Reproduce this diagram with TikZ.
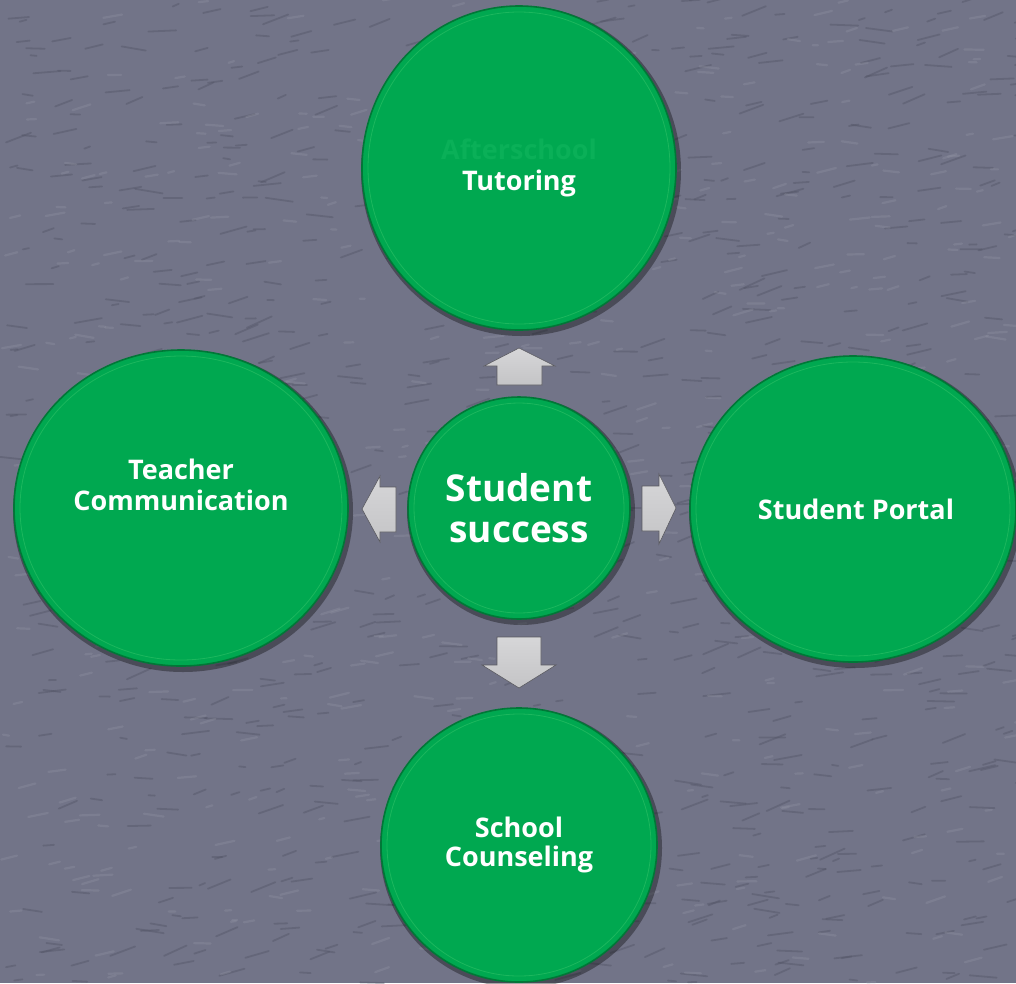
\documentclass[tikz,border=0pt]{standalone}
\usepackage{fontspec}
\setmainfont{Open Sans}
\usetikzlibrary{shapes.geometric}
\definecolor{bggray}{RGB}{114,116,136}
\definecolor{bgdark}{RGB}{80,82,100}
\definecolor{bglight}{RGB}{150,152,166}
\definecolor{cgreen}{RGB}{0,168,80}
\definecolor{cgreenrim}{RGB}{0,120,55}
\definecolor{cgreenhi}{RGB}{40,190,100}
\definecolor{hidgreen}{RGB}{10,176,88}
\definecolor{arrowfill}{RGB}{196,196,198}
\definecolor{arrowlight}{RGB}{214,214,216}
\definecolor{arrowedge}{RGB}{90,90,96}
\tikzset{
  bubble/.style={ellipse, fill=cgreen, draw=cgreenrim, line width=1.6pt, inner sep=0pt,
    text=white, font=\bfseries, align=center},
  bubbleshadow/.style={ellipse, fill=black, opacity=0.35, inner sep=0pt},
  blockarrow/.style={top color=arrowlight, bottom color=arrowfill, draw=arrowedge, line width=0.6pt, line join=miter},
  hirim/.style={ellipse, draw=cgreenhi, line width=0.8pt, inner sep=0pt, opacity=0.7},
  smalltext/.style={font=\bfseries\fontsize{27}{31}\selectfont},
}
\begin{document}
\begin{tikzpicture}[x=1pt,y=-1pt]
\useasboundingbox (0,0) rectangle (1016,983);
\clip (0,0) rectangle (1016,983);
\fill[bggray] (0,0) rectangle (1016,983);
% background texture
\pgfmathsetseed{17}
\foreach \i in {1,...,900}{
  \pgfmathsetmacro{\px}{rnd*1016}
  \pgfmathsetmacro{\py}{rnd*983}
  \pgfmathsetmacro{\pl}{6+rnd*22}
  \pgfmathsetmacro{\pa}{-25+rnd*35}
  \draw[bgdark, opacity=0.4, line width=1.8pt, line cap=round] (\px,\py) -- ++(\pa:\pl);
}
\foreach \i in {1,...,500}{
  \pgfmathsetmacro{\px}{rnd*1016}
  \pgfmathsetmacro{\py}{rnd*983}
  \pgfmathsetmacro{\pl}{5+rnd*15}
  \pgfmathsetmacro{\pa}{-20+rnd*30}
  \draw[bglight, opacity=0.3, line width=2.2pt, line cap=round] (\px,\py) -- ++(\pa:\pl);
}
% shadows
\node[bubbleshadow, minimum width=320pt, minimum height=330pt] at (521,171) {};
\node[bubbleshadow, minimum width=340pt, minimum height=322pt] at (183,511) {};
\node[bubbleshadow, minimum width=332pt, minimum height=312pt] at (855,512) {};
\node[bubbleshadow, minimum width=282pt, minimum height=280pt] at (521,848) {};
\node[bubbleshadow, minimum width=228pt, minimum height=228pt] at (521,511) {};
% bubbles
\node[bubble, smalltext, minimum width=314pt, minimum height=324pt] (top) at (519,168)
  {\textcolor{hidgreen}{Afterschool}\\Tutoring};
\node[bubble, smalltext, minimum width=334pt, minimum height=316pt] (left) at (181,508) {};
\node[smalltext, text=white, align=center] (lefttext) at (left.center) [yshift=23pt] {Teacher\\Communication};
\node[bubble, minimum width=326pt, minimum height=306pt] (right) at (853,509) {};
\node[smalltext, text=white] (righttext) at (right.center) [xshift=3pt] {Student Portal};
\node[bubble, minimum width=276pt, minimum height=274pt, font=\bfseries\fontsize{27}{29}\selectfont] (bottom) at (519,845) {School\\Counseling};
\node[bubble, minimum width=222pt, minimum height=222pt, font=\bfseries\fontsize{37}{41}\selectfont] (center) at (519,508) {Student\\success};
% inner highlight rims
\node[hirim, minimum width=302pt, minimum height=312pt] at (top.center) {};
\node[hirim, minimum width=322pt, minimum height=304pt] at (left.center) {};
\node[hirim, minimum width=314pt, minimum height=294pt] at (right.center) {};
\node[hirim, minimum width=264pt, minimum height=262pt] at (bottom.center) {};
\node[hirim, minimum width=210pt, minimum height=210pt] at (center.center) {};
% block arrows
\coordinate (ua) at (519,367);
\coordinate (la) at (379,509);
\coordinate (ra) at (659,509);
\coordinate (da) at (519,662);
\draw[blockarrow, shift={(ua)}] (0,-19) -- (36,-1) -- (23,-1) -- (23,18) -- (-22,18) -- (-22,-1) -- (-35,-1) -- cycle;
\draw[blockarrow, shift={(la)}] (-17,0) -- (1,-33) -- (1,-22) -- (17,-22) -- (17,23) -- (1,23) -- (1,33) -- cycle;
\draw[blockarrow, shift={(ra)}] (17,-1) -- (0,-35) -- (0,-23) -- (-17,-23) -- (-17,22) -- (0,22) -- (0,35) -- cycle;
\draw[blockarrow, shift={(da)}] (0,26) -- (-37,3) -- (-22,3) -- (-22,-25) -- (22,-25) -- (22,3) -- (37,3) -- cycle;
\end{tikzpicture}
\end{document}
